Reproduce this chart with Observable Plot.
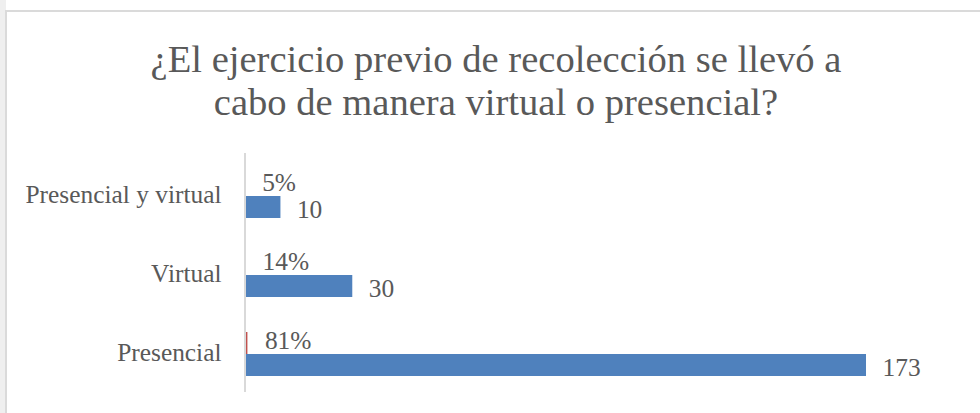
<!DOCTYPE html>
<html><head><meta charset="utf-8">
<script src="https://cdn.jsdelivr.net/npm/d3@7"></script>
<script src="https://cdn.jsdelivr.net/npm/@observablehq/plot@0.6"></script>
<style>
html,body{margin:0;padding:0;background:#fff;width:980px;height:413px;overflow:hidden;position:relative;}
#strip{position:absolute;left:0;top:0;width:6px;height:413px;background:#efefef;}
#box{position:absolute;left:5px;top:10px;width:1000px;height:420px;border-top:2px solid #dadada;border-left:2px solid #dadada;box-sizing:border-box;}
#title{position:absolute;left:0;top:38px;width:992px;text-align:center;font-family:"Liberation Serif";font-size:38.6px;line-height:43px;color:#595959;}
#chart{position:absolute;left:0;top:130px;}
</style></head><body>
<div id="strip"></div>
<div id="box"></div>
<div id="title">¿El ejercicio previo de recolección se llevó a<br>cabo de manera virtual o presencial?</div>
<div id="chart"></div>
<script>
const categories = ["Presencial y virtual", "Virtual", "Presencial"];
const counts = [10, 30, 173];
const percents = [0.05, 0.14, 0.81];
const percentLabels = ["5%", "14%", "81%"];

const rows = categories.map((c, i) => ({category: c, count: counts[i], pct: percents[i], pctLabel: percentLabels[i]}));

const chart = Plot.plot({
  width: 980, height: 283,
  marginTop: 23, marginBottom: 21, marginLeft: 244, marginRight: 17,
  x: {domain: [0, 200], range: [244.5, 963], axis: null},
  y: {domain: categories, range: [25.5, 264], paddingInner: 0.448, paddingOuter: 0.224, axis: null},
  style: {fontFamily: "Liberation Serif", fontSize: "25.4px", color: "#595959", background: "transparent"},
  marks: [
    Plot.barX(rows, {y: "category", x: "pct", fill: "#C0504D", insetBottom: 22}),
    Plot.barX(rows, {y: "category", x: "count", fill: "#4F81BD", insetTop: 22}),
    Plot.ruleX([0], {stroke: "#d9d9d9", strokeWidth: 2}),
    Plot.text(rows, {y: "category", x: "pct", text: "pctLabel", textAnchor: "start", dx: 17, dy: -13.5, fill: "#595959", fontSize: 25.4}),
    Plot.text(rows, {y: "category", x: "count", text: d => String(d.count), textAnchor: "start", dx: 16, dy: 13, fill: "#595959", fontSize: 25.4}),
    Plot.axisY({tickSize: 0, tickPadding: 23, fontSize: 25.4, dy: -2, label: null, color: "#595959"})
  ]
});
document.getElementById("chart").appendChild(chart);
</script>
</body></html>
